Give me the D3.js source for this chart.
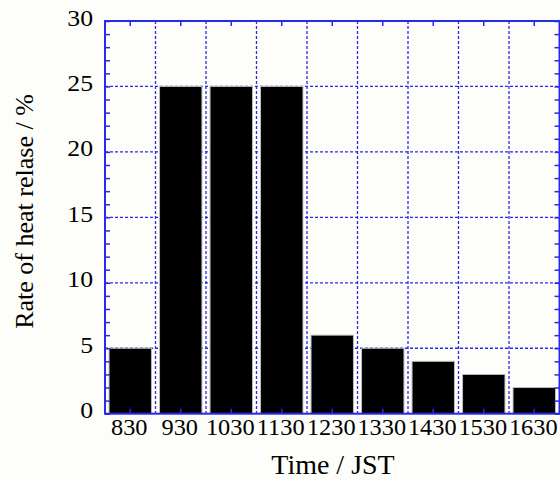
<!DOCTYPE html>
<html><head><meta charset="utf-8">
<script src="https://cdn.jsdelivr.net/npm/d3@7"></script>
<style>html,body{margin:0;padding:0;background:#fdfdf9;}svg{display:block;}</style>
</head><body>
<script>
const categories = ["830","930","1030","1130","1230","1330","1430","1530","1630"];
const values = [5,25,25,25,6,5,4,3,2];
const yTicks = [0,5,10,15,20,25,30];
const xTitle = "Time / JST";
const yTitle = "Rate of heat relase / %";

(function(){
const W = 560, H = 481;
const pL = 105, pR = 559.5, pT = 21, pB = 413.7;
const blue = "#2a2aee";
const svg = d3.select("body").append("svg").attr("width", W).attr("height", H)
  .style("background", "#fdfdf9");

const x = d3.scaleBand().domain(categories).range([pL, pR]).paddingInner(0.16).paddingOuter(0.08);
const y = d3.scaleLinear().domain([0, 30]).range([pB, pT]);
const step = x.step();

// grid
const g = svg.append("g");
g.selectAll(".vg").data(d3.range(1, categories.length)).join("line")
  .attr("x1", i => pL + i * step).attr("x2", i => pL + i * step)
  .attr("y1", pT).attr("y2", pB)
  .attr("stroke", blue).attr("stroke-width", 1.3).attr("stroke-dasharray", "3,2");
g.selectAll(".hg").data(yTicks.filter(v => v > 0 && v < 30)).join("line")
  .attr("x1", pL).attr("x2", pR)
  .attr("y1", d => y(d)).attr("y2", d => y(d))
  .attr("stroke", blue).attr("stroke-width", 1.3).attr("stroke-dasharray", "3,2");

// bars
svg.selectAll("rect.bar").data(values).join("rect")
  .attr("x", (d, i) => x(categories[i]))
  .attr("width", x.bandwidth())
  .attr("y", d => y(d))
  .attr("height", d => y(0) - y(d))
  .attr("fill", "#000").attr("stroke", "#bbb").attr("stroke-width", 1);

// axes
const axisStyle = sel => {
  sel.select(".domain").remove();
  sel.selectAll(".tick line").attr("stroke", blue).attr("stroke-width", 1.5);
  sel.selectAll("text").remove();
};
const minorY = d3.range(0, 31);
svg.append("g").attr("transform", `translate(${pL},0)`)
  .call(d3.axisRight(y).tickValues(minorY).tickSize(5)).call(axisStyle);
svg.append("g").attr("transform", `translate(${pR},0)`)
  .call(d3.axisLeft(y).tickValues(minorY).tickSize(5)).call(axisStyle);
svg.append("g").attr("transform", `translate(0,${pB})`)
  .call(d3.axisTop(x).tickSize(5)).call(axisStyle);
svg.append("g").attr("transform", `translate(0,${pT})`)
  .call(d3.axisBottom(x).tickSize(5)).call(axisStyle);

svg.append("rect").attr("x", pL).attr("y", pT).attr("width", pR - pL).attr("height", pB - pT)
  .attr("fill", "none").attr("stroke", blue).attr("stroke-width", 2);

// labels
const font = "'Liberation Serif', 'Times New Roman', serif";
svg.selectAll("text.yl").data(yTicks).join("text")
  .attr("transform", d => `translate(93,${y(d) - 3.5}) scale(1.12,1)`).attr("dy", "0.35em")
  .attr("text-anchor", "end").attr("font-family", font).attr("font-size", 23).attr("fill", "#000")
  .text(d => d);
svg.selectAll("text.xl").data(categories).join("text")
  .attr("transform", d => `translate(${x(d) + x.bandwidth() / 2 - 1},435) scale(1.06,1)`)
  .attr("text-anchor", "middle").attr("font-family", font).attr("font-size", 23).attr("fill", "#000")
  .text(d => d);
svg.append("text").attr("x", 333).attr("y", 474).attr("text-anchor", "middle")
  .attr("font-family", font).attr("font-size", 28).attr("fill", "#000").text(xTitle);
svg.append("text").attr("transform", "translate(33,211.5) rotate(-90)").attr("text-anchor", "middle")
  .attr("font-family", font).attr("font-size", 26).attr("fill", "#000").text(yTitle);
})();
</script>
</body></html>
